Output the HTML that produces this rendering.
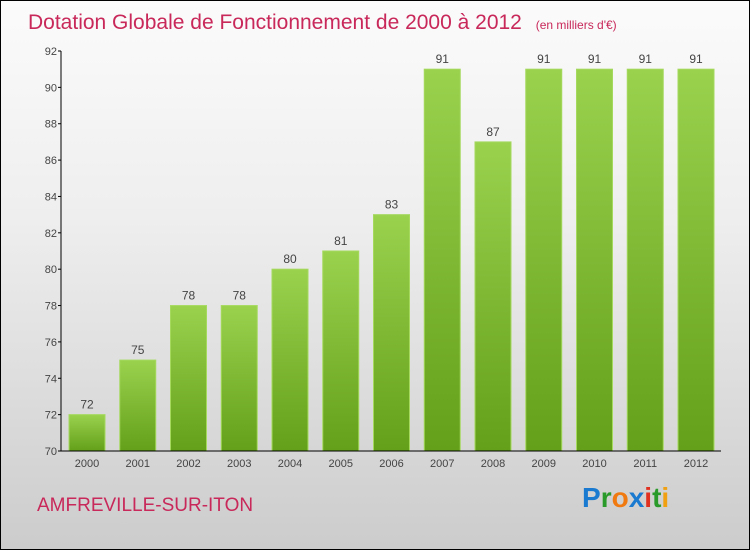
<!DOCTYPE html>
<html><head><meta charset="utf-8"><style>
html,body{margin:0;padding:0;}
body{width:750px;height:550px;overflow:hidden;font-family:"Liberation Sans",sans-serif;}
#wrap{position:relative;width:748px;height:548px;border:1px solid #000;background:linear-gradient(#fbfbfb 0%,#eeeeee 40%,#cccccc 100%);}
svg{position:absolute;left:0;top:0;}
</style></head><body>
<div id="wrap">
<svg id="chart" width="750" height="550">
<defs>
<linearGradient id="bg" x1="0" y1="0" x2="0" y2="1"><stop offset="0" stop-color="#9ad24e"/><stop offset="1" stop-color="#64a01a"/></linearGradient>
</defs>
<text x="27" y="28" font-size="21" fill="#c8285a">Dotation Globale de Fonctionnement de 2000 à 2012 <tspan font-size="12" dx="8">(en milliers d'€)</tspan></text>
<text x="36" y="510" font-size="19" fill="#c8285a">AMFREVILLE-SUR-ITON</text>
<text x="581" y="506" font-size="28" font-weight="bold"><tspan fill="#1a7ad0">P</tspan><tspan fill="#2a9a2a">r</tspan><tspan fill="#f07a10">o</tspan><tspan fill="#1a7ad0">x</tspan><tspan fill="#e03020">i</tspan><tspan fill="#2a9a2a">t</tspan><tspan fill="#f0a010">i</tspan></text>
<g id="plot"></g>
</svg>
</div>
<script>
const categories=["2000","2001","2002","2003","2004","2005","2006","2007","2008","2009","2010","2011","2012"];
const values=[72,75,78,78,80,81,83,91,87,91,91,91,91];
const yTicks=[70,72,74,76,78,80,82,84,86,88,90,92];
const NS="http://www.w3.org/2000/svg";
const g=document.getElementById('plot');
const y0=450,y1=50,vmin=70,vmax=92,x0=60,x1=720;
const y=v=>y0-(v-vmin)/(vmax-vmin)*(y0-y1);
const step=50.75, bw=36;
const xc=i=>86+i*step;
function mk(t,a){const e=document.createElementNS(NS,t);for(const k in a)e.setAttribute(k,a[k]);g.appendChild(e);return e;}
categories.forEach((c,i)=>{
  const r=mk('rect',{x:xc(i)-bw/2,y:y(values[i]),width:bw,height:y0-y(values[i]),fill:'url(#bg)',stroke:'#a5d95e','stroke-width':1});
  
  
  const t=mk('text',{x:xc(i),y:y(values[i])-6,'font-size':12,'text-anchor':'middle',fill:'#444'});
  t.textContent=values[i];
  
  
  const l=mk('text',{x:xc(i),y:466,'font-size':11,'text-anchor':'middle',fill:'#444'});
  l.textContent=c;
  
  
});
yTicks.forEach(v=>{
  mk('line',{x1:x0-3,x2:x0,y1:y(v),y2:y(v),stroke:'#000'});
  const t=mk('text',{x:x0-4,y:y(v)+4,'font-size':11,'text-anchor':'end',fill:'#444'});
  t.textContent=v;
  
  
});
const ya=mk('line',{x1:x0,x2:x0,y1:y1,y2:y0,stroke:'#000'});


const xa=mk('line',{x1:x0,x2:x1,y1:y0,y2:y0,stroke:'#000'});


</script>
</body></html>
